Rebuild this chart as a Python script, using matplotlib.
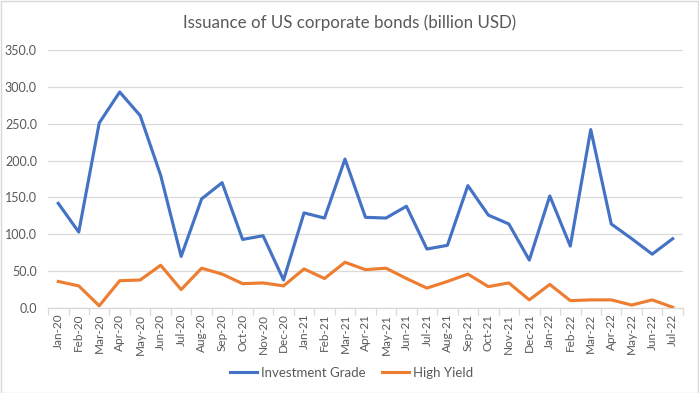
import matplotlib
matplotlib.use("Agg")
import matplotlib.pyplot as plt
from matplotlib.patches import Rectangle
from matplotlib.ticker import FixedLocator, FormatStrFormatter

plt.rcParams["font.family"] = ["Lato", "DejaVu Sans"]

months = [
    "Jan-20", "Feb-20", "Mar-20", "Apr-20", "May-20", "Jun-20", "Jul-20", "Aug-20",
    "Sep-20", "Oct-20", "Nov-20", "Dec-20", "Jan-21", "Feb-21", "Mar-21", "Apr-21",
    "May-21", "Jun-21", "Jul-21", "Aug-21", "Sep-21", "Oct-21", "Nov-21", "Dec-21",
    "Jan-22", "Feb-22", "Mar-22", "Apr-22", "May-22", "Jun-22", "Jul-22",
]
investment_grade = [
    142, 103, 251, 293, 261, 180, 70, 148, 170, 93, 98, 38, 129, 122, 202, 123,
    122, 138, 80, 85, 166, 126, 114, 65, 152, 84, 242, 114, 94, 73, 94,
]
high_yield = [
    36, 30, 3, 37, 38, 58, 25, 54, 46, 33, 34, 30, 53, 40, 62, 52,
    54, 40, 27, 36, 46, 29, 34, 11, 32, 10, 11, 11, 4, 11, 1,
]

BLUE = "#4472C4"
ORANGE = "#ED7D31"
GRID = "#d9d9d9"
TEXT = "#595959"

fig = plt.figure(figsize=(6.99, 3.93), dpi=100)
ax = fig.add_axes([0.0687, 0.2163, 0.9083, 0.6565])

x = list(range(len(months)))
ax.plot(x, investment_grade, color=BLUE, lw=2.25, label="Investment Grade",
        solid_joinstyle="round", zorder=3)
ax.plot(x, high_yield, color=ORANGE, lw=2.25, label="High Yield",
        solid_joinstyle="round", zorder=3)

ax.set_xlim(-0.5, len(months) - 0.5)
ax.set_ylim(0, 350)
ax.set_yticks(range(0, 351, 50))
ax.yaxis.set_major_formatter(FormatStrFormatter("%.1f"))
ax.yaxis.grid(True, color=GRID, lw=0.9)
ax.set_axisbelow(True)

# labels at category centres, tick marks on category boundaries
ax.set_xticks(x)
ax.set_xticklabels(months, rotation=90, fontsize=8.5, color=TEXT)
ax.tick_params(axis="x", which="major", length=0, pad=4)
ax.xaxis.set_minor_locator(FixedLocator([i - 0.5 for i in range(len(months) + 1)]))
ax.tick_params(axis="x", which="minor", length=5, color=GRID, width=0.9)
ax.tick_params(axis="y", length=0, labelsize=9, labelcolor=TEXT, pad=8)

for side in ["top", "right", "left"]:
    ax.spines[side].set_visible(False)
ax.spines["bottom"].set_color(GRID)
ax.spines["bottom"].set_linewidth(0.9)

fig.text(0.5, 0.941, "Issuance of US corporate bonds (billion USD)",
         ha="center", va="center", fontsize=12.2, color=TEXT)

fig.legend(loc="center", bbox_to_anchor=(0.503, 0.051), ncol=2, frameon=False,
           fontsize=9.5, labelcolor=TEXT, handlelength=2.05, columnspacing=1.2,
           handletextpad=0.3)

fig.patches.append(Rectangle((0.001, 0.001), 0.997, 0.997, transform=fig.transFigure,
                             fill=False, ec=GRID, lw=1))

fig.savefig("out.png", dpi=100)
